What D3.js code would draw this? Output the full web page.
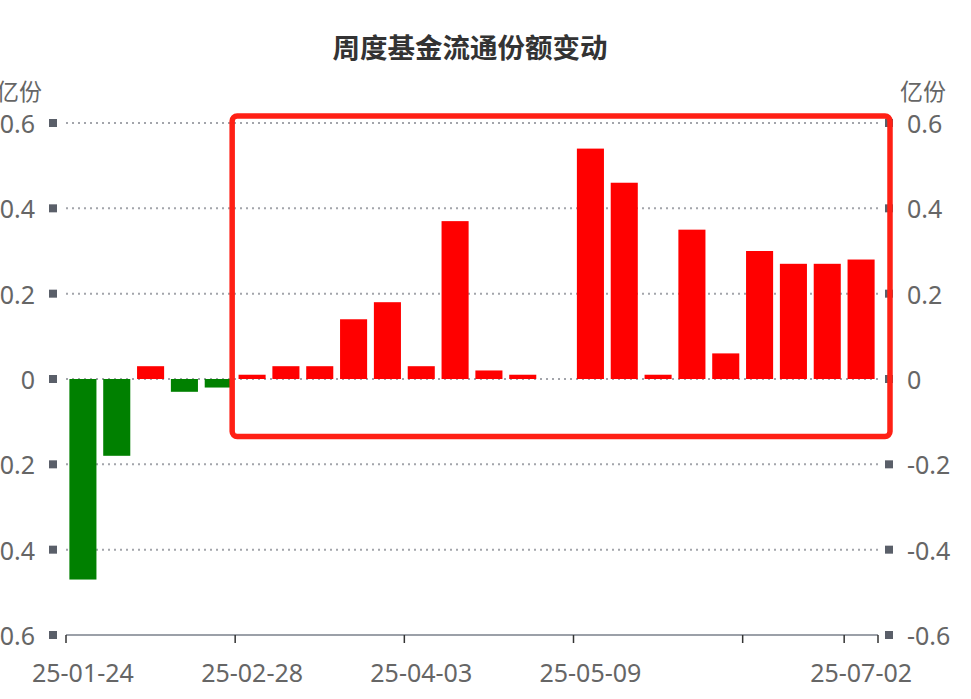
<!DOCTYPE html>
<html><head><meta charset="utf-8">
<script src="https://cdn.jsdelivr.net/npm/d3@7"></script>
<style>
html,body{margin:0;padding:0;background:#fff;}
svg{display:block;font-family:"Noto Sans","Noto Sans CJK SC",sans-serif;}
</style></head>
<body>
<svg id="chart" width="971" height="699"></svg>
<script>
const titleText = "周度基金流通份额变动";
const unitLabel = "亿份";
const categories = ["25-01-24","25-01-31","25-02-07","25-02-14","25-02-21","25-02-28","25-03-07","25-03-14","25-03-21","25-03-28","25-04-03","25-04-11","25-04-18","25-04-25","25-04-30","25-05-09","25-05-16","25-05-23","25-05-30","25-06-06","25-06-13","25-06-20","25-06-27","25-07-02"];
const values = [-0.47,-0.18,0.03,-0.03,-0.02,0.01,0.03,0.03,0.14,0.18,0.03,0.37,0.02,0.01,0,0.54,0.46,0.01,0.35,0.06,0.30,0.27,0.27,0.28];
const yTicks = [-0.6,-0.4,-0.2,0,0.2,0.4,0.6];
const xTickIndex = [0,5,10,15,20,23];
const xLabelIndex = [0,5,10,15,23];
const highlightCats = ["25-02-28","25-07-02"];
const highlightVals = [0.6,-0.135];

const svg = d3.select("#chart");
const x = d3.scaleBand().domain(categories).range([66,878]).paddingInner(0.2).paddingOuter(0.1);
const xb = d3.scaleBand().domain(categories).range([66,878]);
const y = d3.scaleLinear().domain([-0.6,0.6]).range([635,123]);

// title
svg.append("text").attr("x",470).attr("y",46).attr("text-anchor","middle")
  .attr("dominant-baseline","central").attr("font-size",27.5).attr("font-weight","bold")
  .attr("fill","#333").attr("font-family","'Noto Sans CJK SC',sans-serif").text(titleText);

// gridlines
svg.append("g").selectAll("line").data(yTicks.filter(d=>d!==-0.6)).join("line")
  .attr("x1",66).attr("x2",878).attr("y1",d=>y(d)).attr("y2",d=>y(d))
  .attr("stroke","#a3a5ab").attr("stroke-width",2).attr("stroke-dasharray","2,4");

// bars
svg.append("g").selectAll("rect").data(values).join("rect")
  .attr("x",(d,i)=>x(categories[i])).attr("width",x.bandwidth())
  .attr("y",d=>y(Math.max(0,d))).attr("height",d=>Math.abs(y(d)-y(0)))
  .attr("fill",d=>d>=0?"#ff0000":"#008000");

// x axis line
svg.append("line").attr("x1",66).attr("x2",878).attr("y1",y(-0.6)).attr("y2",y(-0.6))
  .attr("stroke","#9ba0a8").attr("stroke-width",2);
const tickXs = xTickIndex.map(i=>xb(categories[i])).concat([xb.range()[1]]);
svg.append("g").selectAll("line").data(tickXs).join("line")
  .attr("x1",d=>d).attr("x2",d=>d).attr("y1",y(-0.6)).attr("y2",y(-0.6)+8)
  .attr("stroke","#333").attr("stroke-width",1.5);
svg.append("g").selectAll("text").data(xLabelIndex).join("text")
  .attr("x",i=>xb(categories[i])+xb.bandwidth()/2).attr("y",672)
  .attr("text-anchor","middle").attr("dominant-baseline","central")
  .attr("font-size",25).attr("fill","#666").text(i=>categories[i]);

// y axes: square markers + labels
const fmt = d=> d===0?"0":d3.format(".1f")(d).replace("\u2212","-");
[{mx:53,lx:35,anchor:"end"},{mx:889,lx:907,anchor:"start"}].forEach(s=>{
  svg.append("g").selectAll("rect").data(yTicks).join("rect")
    .attr("x",s.mx-4).attr("y",d=>y(d)-4).attr("width",8).attr("height",8).attr("fill","#5a5f69");
  svg.append("g").selectAll("text").data(yTicks).join("text")
    .attr("x",s.lx).attr("y",d=>y(d)).attr("text-anchor",s.anchor).attr("dominant-baseline","central")
    .attr("font-size",25).attr("fill","#666").text(fmt);
});
svg.append("text").attr("x",42).attr("y",90).attr("text-anchor","end").attr("dominant-baseline","central")
  .attr("font-size",23).attr("fill","#666").attr("font-family","'Noto Sans CJK SC',sans-serif").text(unitLabel);
svg.append("text").attr("x",900).attr("y",90).attr("text-anchor","start").attr("dominant-baseline","central")
  .attr("font-size",23).attr("fill","#666").attr("font-family","'Noto Sans CJK SC',sans-serif").text(unitLabel);

// highlight annotation box
const bx0 = xb(highlightCats[0]) - 3;
const bx1 = xb(highlightCats[1]) + xb.bandwidth() + 12;
const by0 = y(highlightVals[0]) - 7;
const by1 = y(highlightVals[1]);
svg.append("rect").attr("x",bx0).attr("y",by0).attr("width",bx1-bx0).attr("height",by1-by0)
  .attr("rx",5).attr("fill","none").attr("stroke","#ff2015").attr("stroke-width",5.5);
</script>
</body></html>
